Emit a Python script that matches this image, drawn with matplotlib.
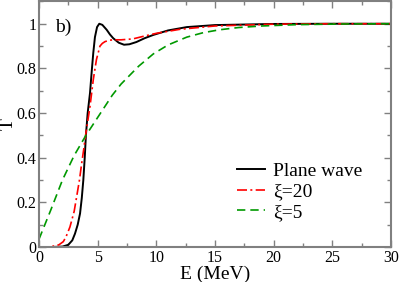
import numpy as np
import matplotlib
matplotlib.use('Agg')
import matplotlib.pyplot as plt
from matplotlib.ticker import MultipleLocator

plt.rcParams['font.family'] = 'serif'
plt.rcParams['font.serif'] = ['Liberation Serif', 'DejaVu Serif']

# values
e_plane = [0, 1, 2, 2.5, 2.84, 3.07, 3.3, 3.5, 3.65, 3.78, 3.9, 4.0, 4.15, 4.35, 4.5, 4.63,
           4.77, 4.95, 5.14, 5.4, 5.77, 6.05, 6.33, 6.8, 7.25, 7.7, 8.3, 9, 9.75, 11, 12.6, 15, 20, 25, 30]
t_plane = [0, 0, 0.002, 0.01, 0.03, 0.06, 0.1, 0.15, 0.22, 0.30, 0.40, 0.50, 0.60, 0.69, 0.79, 0.87,
           0.94, 0.985, 1.0, 0.995, 0.973, 0.952, 0.935, 0.915, 0.906, 0.908, 0.918, 0.935, 0.95, 0.97, 0.985, 0.994, 0.999, 1.0, 1.0]

e_xi20 = [0, 1, 1.7, 2.07, 2.3, 2.64, 3.0, 3.21, 3.45, 3.64, 3.82, 4.0, 4.35, 4.63, 4.9, 5.2,
          5.4, 5.63, 6.0, 6.33, 7, 8, 9, 10, 12, 15, 20, 25, 30]
t_xi20 = [0, 0.001, 0.01, 0.024, 0.045, 0.09, 0.16, 0.225, 0.30, 0.375, 0.44, 0.51, 0.63, 0.75, 0.84, 0.90,
          0.912, 0.92, 0.926, 0.928, 0.928, 0.932, 0.945, 0.957, 0.975, 0.99, 0.998, 1.0, 1.0]

e_xi5 = [0, 1, 2, 3, 4, 5, 6.25, 7, 8.5, 9.75, 11, 12.6, 14, 15.4, 17, 19, 22, 26, 30]
t_xi5 = [0.035, 0.165, 0.30, 0.41, 0.50, 0.58, 0.68, 0.73, 0.81, 0.865, 0.905, 0.94, 0.96, 0.973, 0.983, 0.99, 0.996, 0.999, 1.0]

fig = plt.figure(figsize=(3.99, 2.82), dpi=100)
ax = fig.add_axes([0.0977, 0.124, 0.882, 0.871])

ax.plot(e_plane, t_plane, color='black', lw=1.4, label='Plane wave')
ax.plot(e_xi20, t_xi20, color='#ff0000', lw=1.2, dashes=[6, 2, 1.2, 2], label='\u03be=20')
ax.plot(e_xi5, t_xi5, color='#009900', lw=1.2, dashes=[5, 3], label='\u03be=5')

ax.set_xlim(0, 30)
ax.set_ylim(0, 1.1)
ax.xaxis.set_major_locator(MultipleLocator(5))
ax.xaxis.set_minor_locator(MultipleLocator(2.5))
ax.set_yticks([0, 0.2, 0.4, 0.6, 0.8, 1.0])
ax.set_yticklabels(['0', '0.2', '0.4', '0.6', '0.8', '1'])
ax.yaxis.set_minor_locator(MultipleLocator(0.1))

for s in ax.spines.values():
    s.set_color('#808080')
    s.set_linewidth(1.5)
ax.tick_params(which='both', direction='in', top=True, right=True, color='#808080',
               labelsize=11.5, pad=2)
ax.tick_params(which='major', length=5, width=1)
ax.tick_params(which='minor', length=3, width=1)

ax.set_xlabel('E (MeV)', fontsize=14, labelpad=0)
ax.set_ylabel('T', fontsize=14)
ax.yaxis.set_label_coords(-0.063, 0.5)
ax.text(0.045, 0.93, 'b)', transform=ax.transAxes, fontsize=14, va='top')

leg = ax.legend(loc='lower right', bbox_to_anchor=(0.957, 0.05), frameon=False, fontsize=14,
                handlelength=1.45, handletextpad=0.4, labelspacing=0.15, borderpad=0.2)

fig.savefig('out.png', dpi=100)
